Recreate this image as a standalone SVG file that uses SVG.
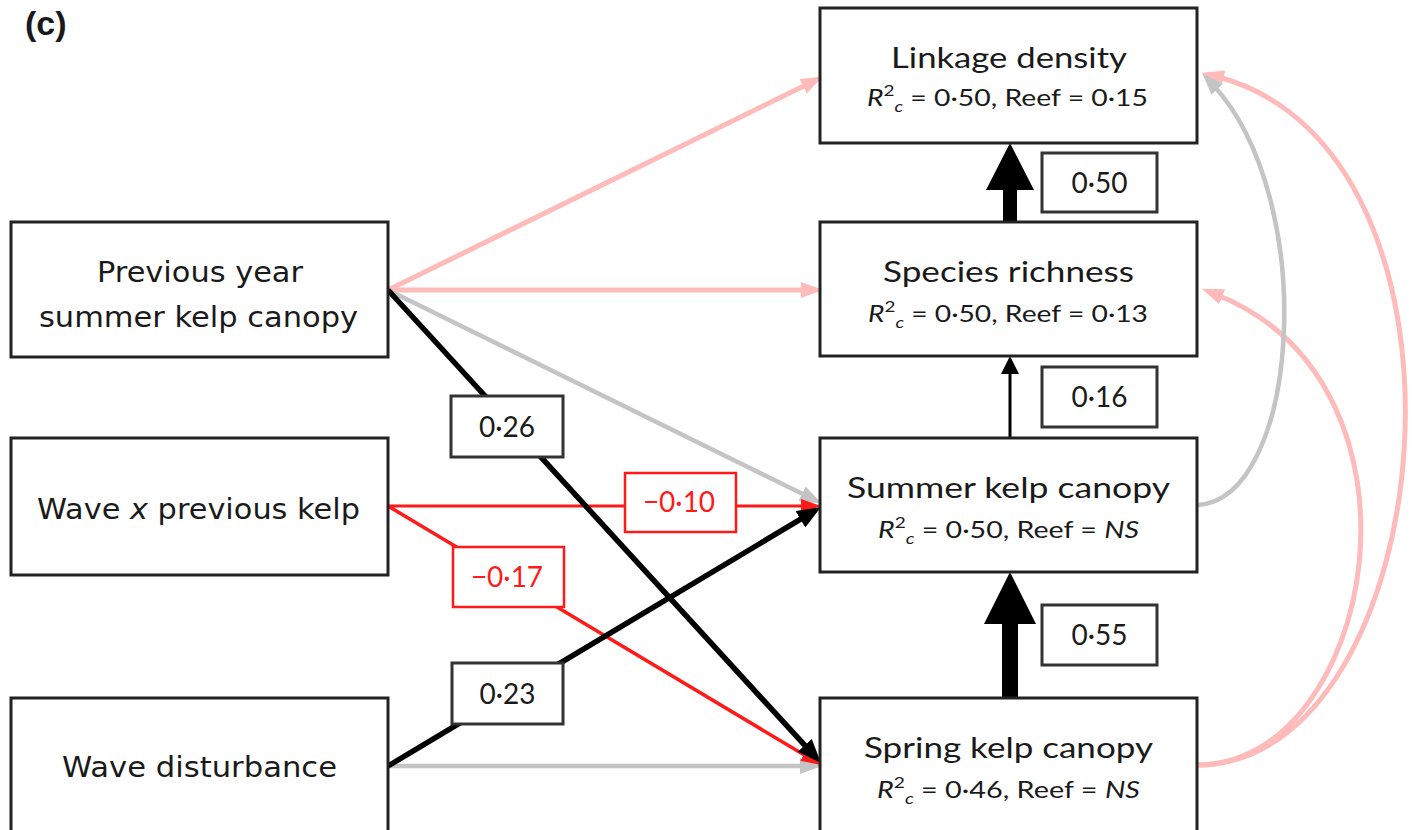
<svg xmlns="http://www.w3.org/2000/svg" width="1412" height="830" viewBox="0 0 1412 830">
<style>
.box{fill:#fff;stroke:#222;stroke-width:3}
.lbl{fill:#fff;stroke:#333;stroke-width:3}
.lblr{fill:#fff;stroke:#ff1a1a;stroke-width:2.5}
.lt{font-family:"DejaVu Sans",Verdana,sans-serif;font-size:29px;fill:#1a1a1a;text-anchor:middle}
.rt{font-family:Lato,"Liberation Sans",sans-serif;font-size:28px;fill:#1a1a1a;text-anchor:middle}
.rs{font-family:Lato,"Liberation Sans",sans-serif;font-size:24px;fill:#1a1a1a;text-anchor:middle}
.num{font-family:Lato,"Liberation Sans",sans-serif;font-size:28px;fill:#1a1a1a;text-anchor:middle}
.numr{font-family:Lato,"Liberation Sans",sans-serif;font-size:28px;fill:#ff1a1a;text-anchor:middle}
.pink{fill:none;stroke:#ffbaba;stroke-width:5}
.grey{fill:none;stroke:#c4c4c4;stroke-width:4.5}
.red{fill:none;stroke:#ff1a1a;stroke-width:3}
.blk{fill:none;stroke:#000;stroke-width:5.5}
</style>
<defs>
<marker id="ahPink" viewBox="0 0 22 16" refX="7" refY="8" markerWidth="22" markerHeight="16" orient="auto" markerUnits="userSpaceOnUse"><path d="M0,0 L22,8 L0,16 z" fill="#ffbaba"/></marker>
<marker id="ahGrey" viewBox="0 0 22 16" refX="7" refY="8" markerWidth="22" markerHeight="16" orient="auto" markerUnits="userSpaceOnUse"><path d="M0,0 L22,8 L0,16 z" fill="#c4c4c4"/></marker>
<marker id="ahRed" viewBox="0 0 20 14" refX="6" refY="7" markerWidth="20" markerHeight="14" orient="auto" markerUnits="userSpaceOnUse"><path d="M0,0 L20,7 L0,14 z" fill="#ff1a1a"/></marker>
<marker id="ahBlk" viewBox="0 0 24 19" refX="10" refY="9.5" markerWidth="24" markerHeight="19" orient="auto" markerUnits="userSpaceOnUse"><path d="M0,0 L24,9.5 L0,19 z" fill="#000"/></marker>
</defs>
<rect width="1412" height="830" fill="#fff"/>
<text x="25" y="35" font-family="'Liberation Sans',Arial,sans-serif" font-size="34" font-weight="bold" fill="#1a1a1a">(c)</text>

<g id="connectors">
  <path class="pink" d="M388,290 L809.4,83.2" marker-end="url(#ahPink)"/>
  <path class="pink" d="M388,290 L808,290" marker-end="url(#ahPink)"/>
  <path class="pink" d="M1197,765 C1375,765 1445,385 1215.6,294.2" marker-end="url(#ahPink)"/>
  <path class="pink" d="M1197,765 C1440,765 1500,150 1216.6,76.5" marker-end="url(#ahPink)"/>
  <path class="grey" d="M388,290 L808.4,496.8" marker-end="url(#ahGrey)"/>
  <path class="grey" d="M388,766 L807,766" marker-end="url(#ahGrey)"/>
  <path class="grey" d="M1197,505 C1300,500 1320,200 1212.5,84.3" marker-end="url(#ahGrey)"/>
  <path class="red" d="M388,506 L807,506" marker-end="url(#ahRed)"/>
  <path class="red" style="stroke-width:3.5" d="M388,506 L809,757.8" marker-end="url(#ahRed)"/>
  <path class="blk" d="M388,290 L811.5,752.7" marker-end="url(#ahBlk)"/>
  <path class="blk" d="M388,766 L809,514.2" marker-end="url(#ahBlk)"/>
  <polygon points="1002,698 1002,624 984,624 1010,572 1036,624 1018,624 1018,698" fill="#000"/>
  <polygon points="1003,222 1003,190 986,190 1010,143 1034,190 1017,190 1017,222" fill="#000"/>
  <line x1="1010" y1="438" x2="1010" y2="372" stroke="#000" stroke-width="3"/>
  <polygon points="1001,374 1010,356 1019,374" fill="#000"/>
  <g id="edge-labels">
    <rect class="lbl" x="1042" y="153" width="115" height="59"/>
    <text class="num" x="1099.5" y="193">0·50</text>
    <rect class="lbl" x="1042" y="367" width="115" height="60"/>
    <text class="num" x="1099.5" y="407">0·16</text>
    <rect class="lbl" x="1042" y="605" width="115" height="60"/>
    <text class="num" x="1099.5" y="645">0·55</text>
    <rect class="lbl" x="451" y="396" width="112" height="61"/>
    <text class="num" x="507" y="437">0·26</text>
    <rect class="lblr" x="625" y="473" width="111" height="59"/>
    <text class="numr" x="679" y="512">−0·10</text>
    <rect class="lblr" x="453" y="547" width="111" height="60"/>
    <text class="numr" x="507" y="587">−0·17</text>
    <rect class="lbl" x="452" y="663" width="111" height="61"/>
    <text class="num" x="507.5" y="704">0·23</text>
  </g>
</g>

<g id="node-prev">
  <rect class="box" x="11" y="222" width="377" height="135"/>
  <text class="lt" x="200" y="282" textLength="206" lengthAdjust="spacingAndGlyphs">Previous year</text>
  <text class="lt" x="198.5" y="327" textLength="319" lengthAdjust="spacingAndGlyphs">summer kelp canopy</text>
</g>
<g id="node-wavex">
  <rect class="box" x="11" y="438" width="377" height="137"/>
  <text class="lt" x="198.5" y="519" textLength="323" lengthAdjust="spacingAndGlyphs">Wave <tspan font-style="italic">x</tspan> previous kelp</text>
</g>
<g id="node-wave">
  <rect class="box" x="11" y="698" width="377" height="140"/>
  <text class="lt" x="199.5" y="777" textLength="275" lengthAdjust="spacingAndGlyphs">Wave disturbance</text>
</g>
<g id="node-linkage">
  <rect class="box" x="820" y="8" width="377" height="135"/>
  <text class="rt" x="1009" y="68" textLength="236" lengthAdjust="spacingAndGlyphs">Linkage density</text>
  <text class="rs" x="1007.5" y="106" textLength="281" lengthAdjust="spacingAndGlyphs"><tspan font-style="italic">R</tspan><tspan font-size="16" dy="-10">2</tspan><tspan font-size="16" font-style="italic" dy="16">c</tspan><tspan dy="-6"> = 0·50, Reef = 0·15</tspan></text>
</g>
<g id="node-species">
  <rect class="box" x="820" y="222" width="377" height="134"/>
  <text class="rt" x="1008.5" y="282" textLength="251" lengthAdjust="spacingAndGlyphs">Species richness</text>
  <text class="rs" x="1008" y="322" textLength="280" lengthAdjust="spacingAndGlyphs"><tspan font-style="italic">R</tspan><tspan font-size="16" dy="-10">2</tspan><tspan font-size="16" font-style="italic" dy="16">c</tspan><tspan dy="-6"> = 0·50, Reef = 0·13</tspan></text>
</g>
<g id="node-summer">
  <rect class="box" x="820" y="438" width="377" height="134"/>
  <text class="rt" x="1008.5" y="498" textLength="323" lengthAdjust="spacingAndGlyphs">Summer kelp canopy</text>
  <text class="rs" x="1008.5" y="538" textLength="261" lengthAdjust="spacingAndGlyphs"><tspan font-style="italic">R</tspan><tspan font-size="16" dy="-10">2</tspan><tspan font-size="16" font-style="italic" dy="16">c</tspan><tspan dy="-6"> = 0·50, Reef = </tspan><tspan font-style="italic">NS</tspan></text>
</g>
<g id="node-spring">
  <rect class="box" x="820" y="698" width="377" height="140"/>
  <text class="rt" x="1008.5" y="758" textLength="289" lengthAdjust="spacingAndGlyphs">Spring kelp canopy</text>
  <text class="rs" x="1008.5" y="798" textLength="263" lengthAdjust="spacingAndGlyphs"><tspan font-style="italic">R</tspan><tspan font-size="16" dy="-10">2</tspan><tspan font-size="16" font-style="italic" dy="16">c</tspan><tspan dy="-6"> = 0·46, Reef = </tspan><tspan font-style="italic">NS</tspan></text>
</g>
</svg>
